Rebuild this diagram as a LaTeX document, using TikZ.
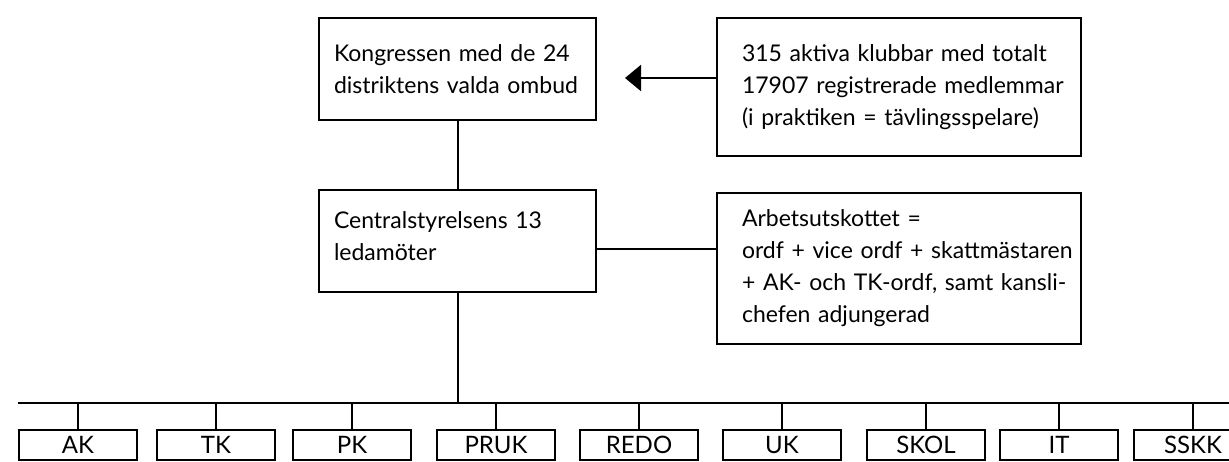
\documentclass[tikz,border=0pt]{standalone}
\usepackage{fontspec}
\setmainfont{Lato}
\usetikzlibrary{arrows.meta}
\begin{document}
\begin{tikzpicture}[x=1pt,y=-1pt, line width=2pt,
  bigbox/.style={draw, line width=2pt, anchor=north west, inner ysep=0pt,
    align=left, font=\fontsize{23}{32}\selectfont},
  unit/.style={draw, line width=2pt, anchor=north, minimum width=118pt,
    minimum height=30pt, inner sep=0pt, font=\fontsize{24}{28}\selectfont},
  link/.style={draw, line width=2pt}]
\useasboundingbox (0,0) rectangle (1229,461);

% upper boxes
\node[bigbox, inner xsep=15pt, text width=247pt, minimum height=102pt] (kongress) at (318,17)
  {\mbox{Kongressen med de 24}\\\mbox{distriktens valda ombud}};
\node[bigbox, inner xsep=25pt, text width=314pt, minimum height=138pt] (klubbar) at (716,17)
  {\mbox{315 aktiva klubbar med totalt}\\\mbox{17907 registrerade medlemmar}\\\mbox{(i praktiken = tävlingsspelare)}};
\node[bigbox, inner xsep=15pt, text width=247pt, minimum height=102pt] (central) at (318,189)
  {\mbox{Centralstyrelsens 13}\\\mbox{ledamöter}\\[-22pt]\mbox{}};
\node[bigbox, inner xsep=25pt, text width=314pt, minimum height=151pt] (arbets) at (716,192)
  {\mbox{Arbetsutskottet =}\\\mbox{ordf + vice ordf + skattmästaren}\\\mbox{+ AK- och TK-ordf, samt kansli-}\\\mbox{chefen adjungerad}};

% bottom units
\node[unit] (ak)   at (78,429)   {AK};
\node[unit] (tk)   at (216,429)  {TK};
\node[unit] (pk)   at (352,429)  {PK};
\node[unit] (pruk) at (496,429)  {PRUK};
\node[unit] (redo) at (639,429)  {REDO};
\node[unit] (uk)   at (782,429)  {UK};
\node[unit] (skol) at (926,429)  {SKOL};
\node[unit] (it)   at (1059,429) {IT};
\node[unit] (sskk) at (1193,429) {SSKK};

% coordinates
\coordinate (tip) at (625,78);
\coordinate (mid) at (0,249);
\coordinate (busL) at (18,403);
\coordinate (busR) at (1240,403);

% connectors
\draw[link, -{Triangle[length=16pt,width=26pt]}] (klubbar.west |- tip) -- (tip);
\draw[link] (kongress.south) -- (kongress.south |- central.north);
\draw[link] (central.east |- mid) -- (arbets.west |- mid);
\draw[link] (central.south) -- (central.south |- busL);
\draw[link] (busL) -- (busR);
\foreach \u in {ak,tk,pk,pruk,redo,uk,skol,it,sskk}
  \draw[link] (\u.north) -- (\u.north |- busL);
\end{tikzpicture}
\end{document}
